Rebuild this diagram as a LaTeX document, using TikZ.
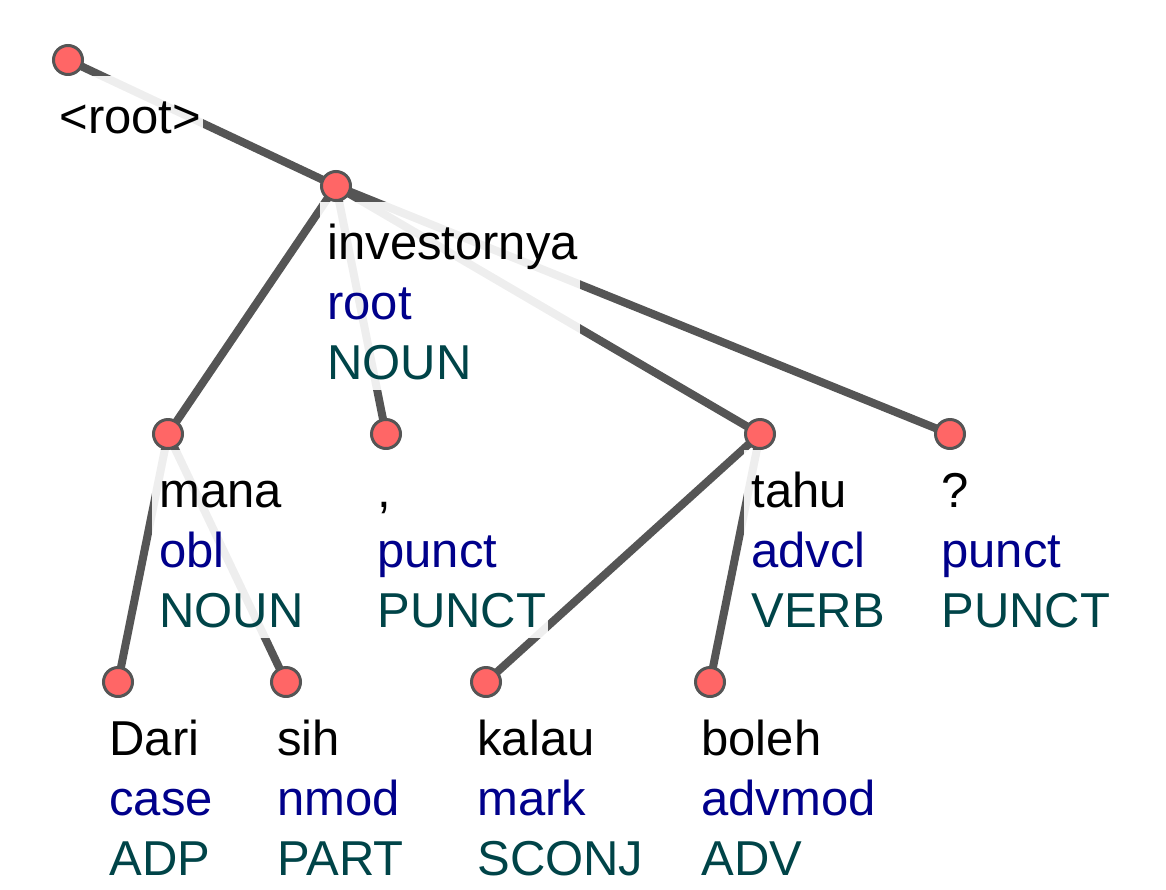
\documentclass[tikz,border=0pt]{standalone}
\usepackage{fontspec}
\setmainfont{Liberation Sans}
\usetikzlibrary{positioning}
\pgfdeclarelayer{background}
\pgfsetlayers{background,main}
\definecolor{edgeColor}{RGB}{85,85,85}
\definecolor{dotColor}{RGB}{255,102,102}
\definecolor{relColor}{RGB}{0,0,139}
\definecolor{posColor}{RGB}{0,68,72}
% three text lines below a token: word, relation, part of speech
\newcommand\deplines[3]{\vbox{\offinterlineskip
  \hbox{\hskip2.5pt\rule{0pt}{28.5pt}\smash{#1}}
  \hbox{\hskip2.5pt\color{relColor}\rule{0pt}{30pt}\smash{#2}}
  \hbox{\hskip2.5pt\color{posColor}\rule[-5.5pt]{0pt}{35.5pt}\smash{#3}}}}
\begin{document}
\begin{tikzpicture}[x=0.5pt,y=-0.5pt,
  tok/.style={circle,draw=edgeColor,fill=dotColor,line width=1.5pt,inner sep=0pt,minimum size=14.5pt},
  deplabel/.style={anchor=north west,inner xsep=1pt,inner ysep=0pt,fill=white,fill opacity=0.9,text opacity=1,
    text=black,font=\fontsize{24.5}{30}\selectfont},
  dep/.style={draw=edgeColor,line width=4pt}]
\path[use as bounding box] (0,0) rectangle (1166,889);

\node[tok] (root) at ( 68, 60) {};
\node[tok] (investornya) at (336,186) {};
\node[tok] (mana) at (168,434) {};
\node[tok] (comma) at (386,434) {};
\node[tok] (tahu) at (760,434) {};
\node[tok] (qmark) at (950,434) {};
\node[tok] (dari) at (118,682) {};
\node[tok] (sih) at (286,682) {};
\node[tok] (kalau) at (486,682) {};
\node[tok] (boleh) at (710,682) {};

\node[deplabel] (lab-root) at ([shift={(-16,16)}]root.center) {\hbox{\hskip2.5pt\rule[-5.5pt]{0pt}{34pt}<root>}};
\node[deplabel] (lab-investornya) at ([shift={(-16,16)}]investornya.center) {\deplines{investornya}{root}{NOUN}};
\node[deplabel] (lab-mana) at ([shift={(-16,16)}]mana.center) {\deplines{mana}{obl}{NOUN}};
\node[deplabel] (lab-comma) at ([shift={(-16,16)}]comma.center) {\deplines{,}{punct}{PUNCT}};
\node[deplabel] (lab-tahu) at ([shift={(-16,16)}]tahu.center) {\deplines{tahu}{advcl}{VERB}};
\node[deplabel] (lab-qmark) at ([shift={(-16,16)}]qmark.center) {\deplines{?}{punct}{PUNCT}};
\node[deplabel] (lab-dari) at ([shift={(-16,16)}]dari.center) {\deplines{Dari}{case}{ADP}};
\node[deplabel] (lab-sih) at ([shift={(-16,16)}]sih.center) {\deplines{sih}{nmod}{PART}};
\node[deplabel] (lab-kalau) at ([shift={(-16,16)}]kalau.center) {\deplines{kalau}{mark}{SCONJ}};
\node[deplabel] (lab-boleh) at ([shift={(-16,16)}]boleh.center) {\deplines{boleh}{advmod}{ADV}};

% arcs go under the labels and the dots
\begin{pgfonlayer}{background}
\draw[dep] (root.center) -- (investornya.center);
\draw[dep] (investornya.center) -- (mana.center);
\draw[dep] (investornya.center) -- (comma.center);
\draw[dep] (investornya.center) -- (tahu.center);
\draw[dep] (investornya.center) -- (qmark.center);
\draw[dep] (mana.center) -- (dari.center);
\draw[dep] (mana.center) -- (sih.center);
\draw[dep] (tahu.center) -- (kalau.center);
\draw[dep] (tahu.center) -- (boleh.center);
\end{pgfonlayer}
\end{tikzpicture}
\end{document}
